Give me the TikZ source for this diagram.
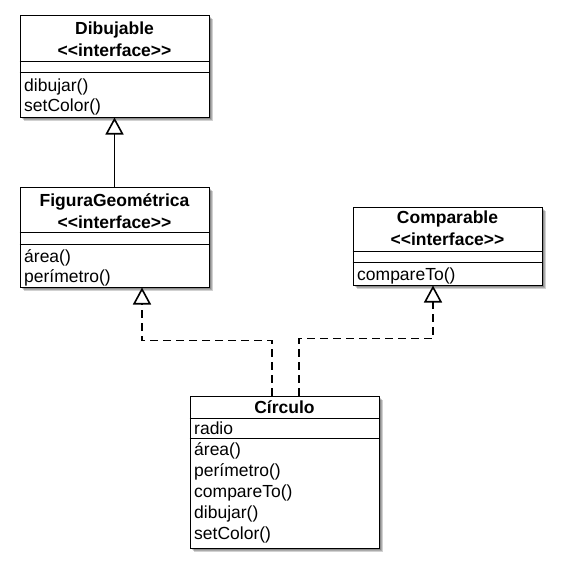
\documentclass[tikz,border=0pt]{standalone}
\usepackage{fontspec}
\setmainfont{Liberation Sans}
\usetikzlibrary{arrows.meta,shadows}
\begin{document}
\begin{tikzpicture}[x=1pt,y=-1pt,
  softshadow/.style={general shadow={shadow xshift=#1, shadow yshift=-#1, fill=black, opacity=0.18}},
  umlbox/.style={draw=black, line width=1pt, fill=white, inner sep=0pt,
    softshadow=4pt, softshadow=3pt, softshadow=2pt},
  sep/.style={draw=black, line width=0.9pt},
  title/.style={anchor=base, inner sep=0pt, font=\fontsize{17.5}{20}\selectfont\bfseries},
  member/.style={anchor=base west, inner sep=0pt, font=\fontsize{17.5}{20}\selectfont},
  realize/.style={line width=1.9pt, dash pattern=on 8pt off 5pt,
    -{Triangle[open, width=18pt, length=17pt, fill=white, line width=1.6pt]}},
  generalize/.style={line width=1.9pt, -{Triangle[open, width=18pt, length=17pt, fill=white, line width=1.6pt]}}
]
\useasboundingbox (0,0) rectangle (562,573);

% Dibujable
\node[umlbox, minimum width=189pt, minimum height=102pt] (dib) at (114.5,66) {};
\draw[sep] (dib.west |- 0,61) -- (dib.east |- 0,61);
\draw[sep] (dib.west |- 0,72) -- (dib.east |- 0,72);
\node[title] (dibT) at (114.5,34) {Dibujable};
\node[title] (dibS) at (114.5,56) {<{}<interface>{}>};
\node[member] (dibM1) at (24,91) {dibujar()};
\node[member] (dibM2) at (24,111.5) {setColor()};

% FiguraGeométrica
\node[umlbox, minimum width=189pt, minimum height=100pt] (fig) at (114.5,237) {};
\draw[sep] (fig.west |- 0,232) -- (fig.east |- 0,232);
\draw[sep] (fig.west |- 0,244) -- (fig.east |- 0,244);
\node[title] (figT) at (114.5,206) {FiguraGeométrica};
\node[title] (figS) at (114.5,228) {<{}<interface>{}>};
\node[member] (figM1) at (24,262) {área()};
\node[member] (figM2) at (24,282.5) {perímetro()};

% Comparable
\node[umlbox, minimum width=189pt, minimum height=78pt] (cmp) at (447.5,246) {};
\draw[sep] (cmp.west |- 0,251) -- (cmp.east |- 0,251);
\draw[sep] (cmp.west |- 0,262) -- (cmp.east |- 0,262);
\node[title] (cmpT) at (447.5,223) {Comparable};
\node[title] (cmpS) at (447.5,245) {<{}<interface>{}>};
\node[member] (cmpM1) at (357,280) {compareTo()};

% Círculo
\node[umlbox, minimum width=189pt, minimum height=152pt] (cir) at (284.5,472) {};
\draw[sep] (cir.west |- 0,418) -- (cir.east |- 0,418);
\draw[sep] (cir.west |- 0,438) -- (cir.east |- 0,438);
\node[title] (cirT) at (284.5,413) {Círculo};
\node[member] (cirA1) at (194,434) {radio};
\node[member] (cirM1) at (194,455) {área()};
\node[member] (cirM2) at (194,476) {perímetro()};
\node[member] (cirM3) at (194,497) {compareTo()};
\node[member] (cirM4) at (194,518) {dibujar()};
\node[member] (cirM5) at (194,539) {setColor()};

% Relations
\draw[generalize] (fig.north) -- (dib.south);
\draw[realize] ([xshift=-12.5pt]cir.north) -- ++(0,-55) -| ([xshift=27.5pt]fig.south);
\draw[realize] ([xshift=14.5pt]cir.north) -- ++(0,-57) -| ([xshift=-14.5pt]cmp.south);
\end{tikzpicture}
\end{document}
